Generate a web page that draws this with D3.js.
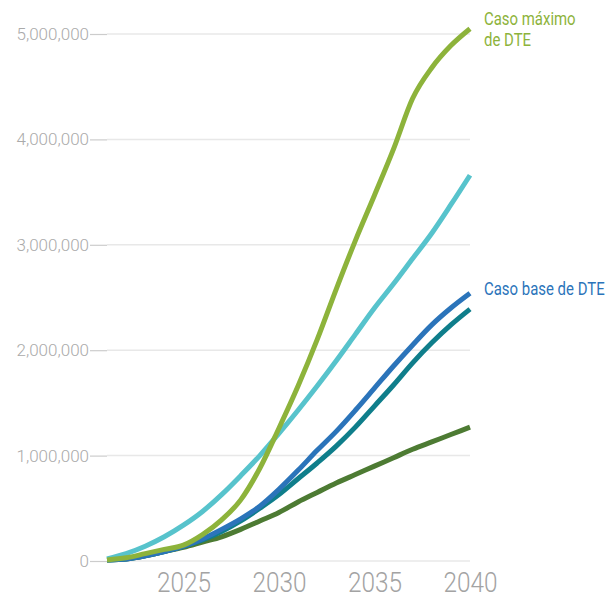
<!DOCTYPE html>
<html>
<head>
<meta charset="utf-8">
<script src="https://cdn.jsdelivr.net/npm/d3@7"></script>
<style>
  body { margin: 0; background: #fff; }
  svg { display: block; }
</style>
</head>
<body>
<svg id="chart"></svg>
<script>
const years = d3.range(2021, 2041);

// values, in millions
const maxCase   = [0.01, 0.03, 0.07, 0.11, 0.15, 0.25, 0.39, 0.58, 0.88, 1.26, 1.66, 2.10, 2.58, 3.04, 3.47, 3.91, 4.39, 4.68, 4.89, 5.05];
const cyanCase  = [0.02, 0.07, 0.14, 0.23, 0.34, 0.47, 0.63, 0.81, 1.00, 1.21, 1.43, 1.66, 1.90, 2.15, 2.40, 2.63, 2.87, 3.11, 3.38, 3.66];
const baseCase  = [0.01, 0.02, 0.05, 0.09, 0.14, 0.21, 0.30, 0.40, 0.52, 0.68, 0.86, 1.05, 1.23, 1.43, 1.64, 1.85, 2.05, 2.24, 2.40, 2.54];
const tealCase  = [0.01, 0.02, 0.05, 0.09, 0.14, 0.20, 0.28, 0.38, 0.50, 0.63, 0.78, 0.93, 1.09, 1.27, 1.47, 1.67, 1.88, 2.07, 2.24, 2.39];
const darkCase  = [0.01, 0.02, 0.05, 0.09, 0.13, 0.18, 0.23, 0.30, 0.38, 0.46, 0.56, 0.65, 0.74, 0.82, 0.90, 0.98, 1.06, 1.13, 1.20, 1.27];

const yTicks = [0, 1000000, 2000000, 3000000, 4000000, 5000000];
const xTicks = [2025, 2030, 2035, 2040];

// bottom to top drawing order
const series = [
  { name: "dark", values: darkCase, color: "#4d7b33" },
  { name: "teal", values: tealCase, color: "#0f7e8b" },
  { name: "base", values: baseCase, color: "#2b74ba", label: ["Caso base de DTE"] },
  { name: "cyan", values: cyanCase, color: "#57c3cc" },
  { name: "max", values: maxCase, color: "#8db33b", label: ["Caso máximo", "de DTE"] }
];

const width = 606, height = 594;
const svg = d3.select("#chart").attr("width", width).attr("height", height);

const x = d3.scaleLinear().domain([2021, 2040]).range([107, 470]);
const y = d3.scaleLinear().domain([0, 5000000]).range([561, 34]);

// gridlines
svg.append("g")
  .selectAll("line")
  .data(yTicks)
  .join("line")
  .attr("x1", 107).attr("x2", 470)
  .attr("y1", d => y(d)).attr("y2", d => y(d))
  .attr("stroke", "#e8e8e8")
  .attr("stroke-width", 1.5);

// y axis
const yAxis = svg.append("g")
  .attr("transform", "translate(107,0)")
  .call(d3.axisLeft(y).tickValues(yTicks).tickSize(17).tickPadding(1).tickFormat(d3.format(",")));
yAxis.select(".domain").remove();
yAxis.selectAll("line").attr("stroke", "#cccccc").attr("stroke-width", 1.2);
yAxis.selectAll("text")
  .attr("fill", "#aaaaaa")
  .attr("font-family", "Roboto")
  .attr("font-weight", 300)
  .attr("font-size", 17);

// x axis, condensed look by squeezing Roboto horizontally
const xAxis = svg.append("g")
  .attr("transform", "translate(0,561)")
  .call(d3.axisBottom(x).tickValues(xTicks).tickSize(0).tickPadding(0).tickFormat(d3.format("d")));
xAxis.select(".domain").remove();
xAxis.selectAll(".tick text")
  .attr("dy", null)
  .attr("y", 0)
  .attr("transform", "translate(0,31) scale(0.87,1)")
  .attr("fill", "#a3a3a3")
  .attr("font-family", "Roboto")
  .attr("font-weight", 300)
  .attr("font-size", 28);

const line = d3.line()
  .x((d, i) => x(years[i]))
  .y(d => y(d * 1000000))
  .curve(d3.curveMonotoneX);

svg.append("g")
  .selectAll("path")
  .data(series)
  .join("path")
  .attr("d", d => line(d.values))
  .attr("fill", "none")
  .attr("stroke", d => d.color)
  .attr("stroke-width", 5)
  .attr("stroke-linejoin", "round");

// series labels
const labelled = series.filter(d => d.label);
svg.append("g")
  .selectAll("text")
  .data(labelled)
  .join("text")
  .attr("transform", d => `translate(484,${d.name === "max" ? 25 : 295}) scale(0.83,1)`)
  .attr("fill", d => d.color)
  .attr("font-family", "Roboto")
  .attr("font-size", 18)
  .selectAll("tspan")
  .data(d => d.label)
  .join("tspan")
  .attr("x", 0)
  .attr("dy", (d, i) => i === 0 ? 0 : 21)
  .text(d => d);
</script>
</body>
</html>
